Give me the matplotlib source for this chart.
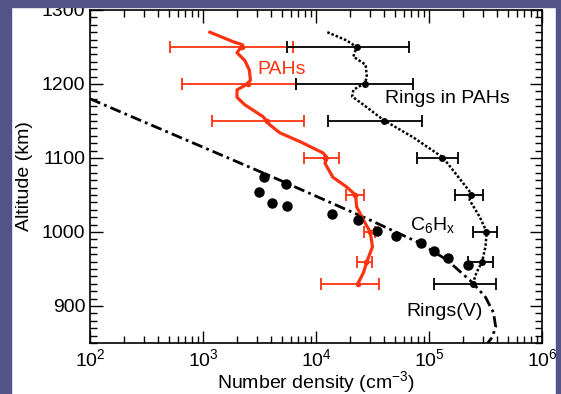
import numpy as np
import matplotlib.pyplot as plt
from matplotlib.patches import Rectangle
from matplotlib.ticker import MultipleLocator

plt.rcParams['font.family'] = ['Liberation Sans', 'DejaVu Sans']
plt.rcParams['mathtext.fontset'] = 'custom'
plt.rcParams['mathtext.rm'] = 'Liberation Sans'
plt.rcParams['mathtext.it'] = 'Liberation Sans:italic'
plt.rcParams['mathtext.default'] = 'regular'

# red PAHs profile
pah_x = [1150, 1860, 2240, 2000, 2340, 2570, 2630, 2400, 2000, 2000, 2340, 3390, 3890,
         4790, 7240, 11500, 12600, 12000, 14100, 18600, 22400, 22900, 26300, 30200,
         31600, 28200, 26300, 23400]
pah_alt = [1270, 1257, 1253, 1242, 1232, 1219, 1205, 1199, 1192, 1182, 1172, 1156, 1145,
           1134, 1122, 1107, 1100, 1093, 1074, 1061, 1050, 1034, 1016, 1000,
           980, 960, 945, 930]

# red error bars on PAHs
pah_err_alt = [1250, 1200, 1150, 1100, 1050, 1000, 960, 930]
pah_err_c = [2200, 2500, 3700, 12000, 22000, 30000, 27500, 23500]
pah_err_lo = [510, 650, 1200, 7900, 18500, 26500, 23000, 11000]
pah_err_hi = [6300, 6600, 7900, 16000, 26500, 33000, 31500, 36000]

# rings in PAHs (dotted)
ring_x = [12600, 18600, 22900, 21400, 27500, 28200, 26900, 21400, 20900, 26300, 39800,
          72400, 132000, 162000, 234000, 229000, 282000, 324000, 316000, 295000,
          263000, 245000]
ring_alt = [1270, 1259, 1250, 1237, 1226, 1209, 1201, 1192, 1183, 1172, 1151,
            1128, 1101, 1084, 1053, 1043, 1020, 1000, 980, 960,
            945, 931]

ring_err_alt = [1250, 1200, 1150, 1100, 1050, 1000, 960, 930]
ring_err_c = [23000, 27000, 40000, 130000, 235000, 320000, 295000, 245000]
ring_err_lo = [5500, 6700, 12800, 78000, 170000, 245000, 220000, 110000]
ring_err_hi = [66000, 72000, 87000, 180000, 300000, 400000, 370000, 390000]

# C6Hx model (dash-dot)
c6_x = [100, 1860, 4790, 30200, 52500, 83200, 145000, 245000, 316000, 372000,
        389000, 363000, 331000]
c6_alt = [1180, 1097, 1070, 1016, 999, 985, 962, 931, 912, 891,
          872, 858, 850]

# C6Hx data points
dot_x = [3470, 5400, 3150, 4100, 5500, 13800, 23500, 35000, 51000, 85000,
         110000, 148000, 220000]
dot_alt = [1074, 1065, 1054, 1039, 1035, 1024, 1016, 1001, 995, 985,
           974, 965, 955]

red = '#ff3311'
purple = '#53538a'

fig = plt.figure(figsize=(5.61, 3.94), dpi=100)
ax = fig.add_axes([90/561, 1-343/394, 452/561, 333/394])

ax.plot(c6_x, c6_alt, color='black', lw=2, linestyle=(0, (4, 1.5, 1, 1.5)))
ax.plot(ring_x, ring_alt, color='black', lw=1.8, linestyle=(0, (1, 0.8)))
ax.plot(pah_x, pah_alt, color=red, lw=2.3)

c = np.array(pah_err_c)
ax.errorbar(c, pah_err_alt, xerr=[c - np.array(pah_err_lo), np.array(pah_err_hi) - c],
            fmt='o', ms=3, color=red, elinewidth=1.3, capsize=4, capthick=1.3)
c = np.array(ring_err_c)
ax.errorbar(c, ring_err_alt, xerr=[c - np.array(ring_err_lo), np.array(ring_err_hi) - c],
            fmt='o', ms=4, color='black', elinewidth=1.3, capsize=4, capthick=1.3)

ax.plot(dot_x, dot_alt, 'o', color='black', ms=6.5)

ax.text(5.0e3, 1219, 'PAHs', color=red, fontsize=14, ha='center', va='center')
ax.text(1.45e5, 1180, 'Rings in PAHs', color='black', fontsize=14, ha='center', va='center')
ax.text(1.07e5, 1009, 'C$_6$H$_x$', color='black', fontsize=14, ha='center', va='center')
ax.text(1.38e5, 892, 'Rings(V)', color='black', fontsize=14, ha='center', va='center')

ax.set_xscale('log')
ax.set_xlim(1e2, 1e6)
ax.set_ylim(850, 1300)
ax.yaxis.set_major_locator(MultipleLocator(100))
ax.yaxis.set_minor_locator(MultipleLocator(10))
ax.tick_params(which='both', direction='in', top=True, right=True, labelsize=14)
ax.tick_params(which='major', length=9, width=1)
ax.tick_params(which='minor', length=5, width=1)
for s in ax.spines.values():
    s.set_linewidth(1.2)

ax.set_xlabel('Number density (cm$^{-3}$)', fontsize=14)
ax.set_ylabel('Altitude (km)', fontsize=14)
ax.xaxis.set_label_coords(0.5, -0.078)
ax.yaxis.set_label_coords(-0.127, 0.5)

# purple frame around the white panel
fig.add_artist(Rectangle((0, 0), 11/561, 1, transform=fig.transFigure, color=purple, zorder=10))
fig.add_artist(Rectangle((0, 1-7/394), 1, 7/394, transform=fig.transFigure, color=purple, zorder=10))
fig.add_artist(Rectangle((556/561, 0), 5/561, 1, transform=fig.transFigure, color=purple, zorder=10))

fig.savefig('out.png', dpi=100)
